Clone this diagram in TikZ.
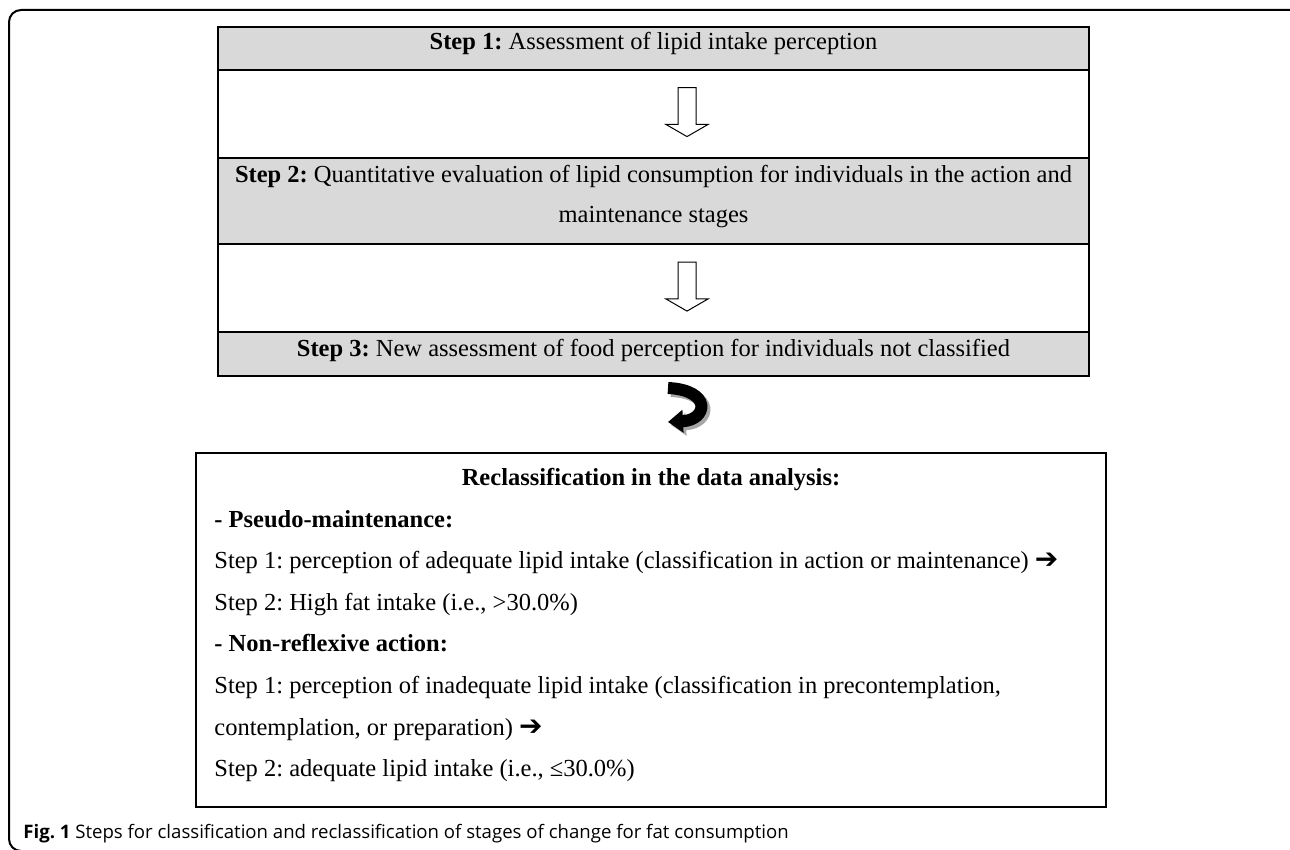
\documentclass[tikz,border=0pt]{standalone}
\usepackage{fontspec}
\setmainfont{Liberation Serif}
\newfontfamily\capfont{Open Sans}
\newfontfamily\symfont{DejaVu Sans}
\usetikzlibrary{shapes.arrows,arrows.meta}
\frenchspacing

\newcommand{\rarr}{{\symfont\fontsize{14}{14}\selectfont\char"2794}}

\begin{document}
\begin{tikzpicture}[x=0.5pt, y=-0.5pt,
	rowbox/.style={draw, rectangle, line width=0.65pt, minimum width=435.5pt, inner sep=0pt},
	greyrow/.style={rowbox, fill=black!15},
	txt/.style={inner sep=0pt, anchor=base, font=\fontsize{12.25}{20.5}\selectfont},
	ltxt/.style={txt, anchor=base west},
	hollow/.style={draw, single arrow, rotate=-90, line width=0.5pt, inner sep=4.25pt, minimum height=24.5pt, minimum width=20.5pt, single arrow head extend=6pt, single arrow tip angle=120}]
	\useasboundingbox (0,0) rectangle (1290,850);
	\begin{scope}
		\clip (0,0) rectangle (1290,850);
		\draw[line width=1pt, rounded corners=6pt] (9,10) rectangle (1302,851);
	\end{scope}

	\node[greyrow, minimum height=21.5pt] (S1) at (653.5,48.5) {};
	\node[rowbox, minimum height=44pt] (G1) at (653.5,114) {};
	\node[greyrow, minimum height=43pt] (S2) at (653.5,201) {};
	\node[rowbox, minimum height=44pt] (G2) at (653.5,288) {};
	\node[greyrow, minimum height=22pt] (S3) at (653.5,354) {};

	\node[txt] (T1) at (653.5,50) {\textbf{Step 1:} Assessment of lipid intake perception};
	\node[txt, align=center] (T2) at (653.5,223) {\textbf{Step 2:} Quantitative evaluation of lipid consumption for individuals in the action and\\maintenance stages};
	\node[txt] (T3) at (653.5,356) {\textbf{Step 3:} New assessment of food perception for individuals not classified};

	\node[hollow] (A1) at (687,109.5) {};
	\node[hollow] (A2) at (687,284) {};

	\coordinate (c1) at (668,388);
	\coordinate (c2) at (668,422);
	\draw[black!35, line width=6pt, -{Triangle[length=7.5pt, width=11pt]}] ([shift={(3,3)}]c1) .. controls (715,393) and (711,423) .. ([shift={(3,3)}]c2);
	\draw[line width=6pt, -{Triangle[length=7.5pt, width=11pt]}] (c1) .. controls (712,390) and (708,420) .. (c2);

	\node[draw, line width=0.65pt, minimum width=455pt, minimum height=177pt, inner sep=0pt] (RC) at (651,630) {};
	\node[txt] (R0) at (651,485) {\textbf{Reclassification in the data analysis:}};
	\node[ltxt] (R1) at (214,527) {\textbf{- Pseudo-maintenance:}};
	\node[ltxt] (R2) at (214,568) {Step 1: perception of adequate lipid intake (classification in action or maintenance) \rarr};
	\node[ltxt] (R3) at (214,610) {Step 2: High fat intake (i.e., >30.0\%)};
	\node[ltxt] (R4) at (214,651) {\textbf{- Non-reflexive action:}};
	\node[ltxt] (R5) at (214,693) {Step 1: perception of inadequate lipid intake (classification in precontemplation,};
	\node[ltxt] (R6) at (214,735) {contemplation, or preparation) \rarr};
	\node[ltxt] (R7) at (214,776) {Step 2: adequate lipid intake (i.e., ≤30.0\%)};

	\node[inner sep=0pt, anchor=base west, font=\capfont\fontsize{9.3}{11}\selectfont] (Cap) at (23,838) {\textbf{Fig. 1} Steps for classification and reclassification of stages of change for fat consumption};
\end{tikzpicture}
\end{document}
